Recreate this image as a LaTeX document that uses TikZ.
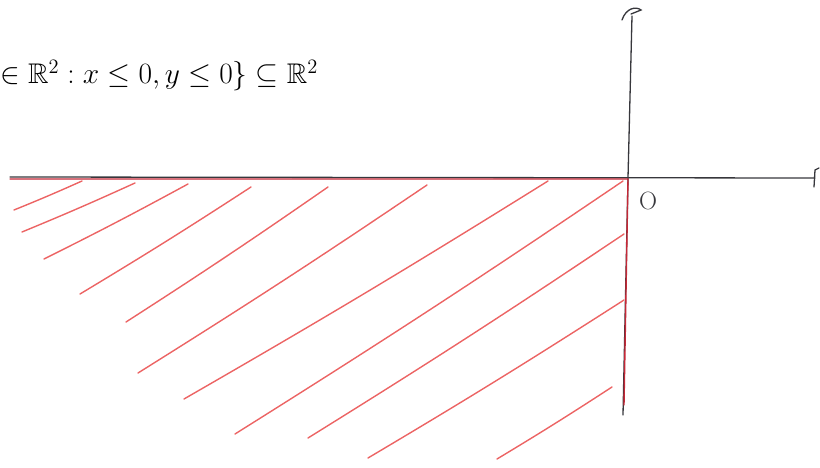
\documentclass[tikz,border=0pt]{standalone}
\usepackage{amsmath,amssymb}
\usepackage{graphicx}
\usepackage{tikz}
\definecolor{pencil}{RGB}{55,55,60}
\definecolor{edgered}{RGB}{196,40,55}
\definecolor{hatchred}{RGB}{236,100,100}
\tikzset{
  axisline/.style  = {pencil,line width=1.3pt,line cap=round},
  edgeline/.style  = {edgered,line width=1.4pt,line cap=round},
  hatchline/.style = {hatchred,line width=1.4pt,line cap=round}
}
\newcommand{\hatch}[4]{%
  \draw[hatchline] (#1,#2) to[bend right=1] (#3,#4);
}

\begin{document}
\begin{tikzpicture}[x=1pt,y=-1pt]
  \useasboundingbox (0,0) rectangle (820,468);
  % the set, as printed
  \node[anchor=base west,inner sep=0pt,font=\fontsize{20}{24}\selectfont] (setdef) at (0,84)
    {\scalebox{1.42}{$\in \mathbb{R}^2 : x \leq 0, y \leq 0\} \subseteq \mathbb{R}^2$}};
  % axes
  \draw[axisline] (10,177) -- (815,178);
  \draw[axisline] (623,415) -- (628,178) -- (632,16);
  \draw[axisline] (622,20) .. controls (626,8) and (636,6) .. (641,10) -- (631,14);
  \draw[axisline] (814,187) -- (815,170) -- (819,168);
  \node[font=\fontsize{25}{30}\selectfont,pencil] (origin) at (648,201) {O};
  % boundary of the quadrant
  \draw[edgeline] (10,179) -- (628,179) -- (624,405);
  % hatching
  \hatch{14}{210}{82}{181}
  \hatch{22}{232}{135}{183}
  \hatch{44}{259}{188}{184}
  \hatch{80}{294}{251}{187}
  \hatch{126}{322}{328}{187}
  \hatch{138}{373}{427}{185}
  \hatch{184}{399}{548}{181}
  \hatch{235}{434}{623}{181}
  \hatch{308}{438}{624}{234}
  \hatch{368}{458}{624}{300}
  \hatch{497}{459}{612}{387}
\end{tikzpicture}
\end{document}
